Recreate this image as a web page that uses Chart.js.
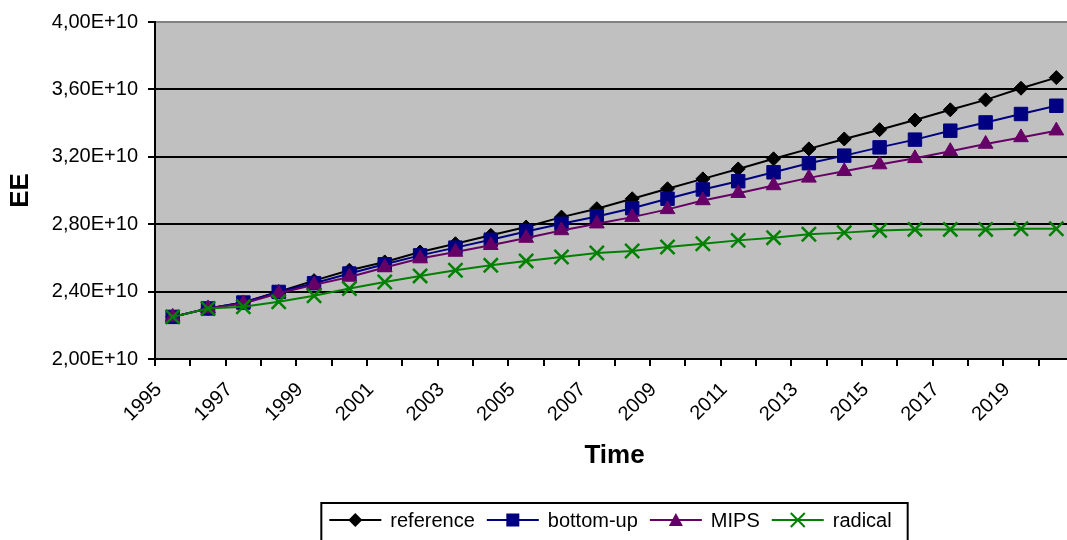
<!DOCTYPE html>
<html>
<head>
<meta charset="utf-8">
<script src="https://cdn.jsdelivr.net/npm/chart.js@4.4.0/dist/chart.umd.min.js"></script>
<style>
  html, body { margin: 0; padding: 0; background: #fff; overflow: hidden; }
  canvas { display: block; }
</style>
</head>
<body>
<canvas id="grafico" width="1076" height="540"></canvas>
<script>
// dados
const anos = ['1995', '1996', '1997', '1998', '1999', '2000', '2001', '2002', '2003', '2004', '2005', '2006', '2007',
  '2008', '2009', '2010', '2011', '2012', '2013', '2014', '2015', '2016', '2017', '2018', '2019', '2020'];

const reference = [2.25e10, 2.30e10, 2.335e10, 2.40e10, 2.465e10, 2.527e10, 2.576e10, 2.635e10, 2.684e10, 2.734e10,
  2.783e10, 2.842e10, 2.892e10, 2.951e10, 3.010e10, 3.069e10, 3.128e10, 3.188e10, 3.247e10, 3.306e10,
  3.361e10, 3.418e10, 3.479e10, 3.538e10, 3.607e10, 3.670e10];
const bottomUp = [2.25e10, 2.30e10, 2.335e10, 2.398e10, 2.45e10, 2.507e10, 2.562e10, 2.615e10, 2.661e10, 2.708e10,
  2.757e10, 2.803e10, 2.846e10, 2.895e10, 2.951e10, 3.006e10, 3.055e10, 3.108e10, 3.162e10, 3.207e10,
  3.256e10, 3.302e10, 3.355e10, 3.404e10, 3.454e10, 3.503e10];
const mips = [2.25e10, 2.30e10, 2.33e10, 2.39e10, 2.44e10, 2.487e10, 2.543e10, 2.596e10, 2.635e10, 2.675e10,
  2.718e10, 2.763e10, 2.803e10, 2.842e10, 2.888e10, 2.941e10, 2.984e10, 3.030e10, 3.075e10, 3.114e10,
  3.154e10, 3.191e10, 3.233e10, 3.276e10, 3.315e10, 3.355e10];
const radical = [2.25e10, 2.30e10, 2.31e10, 2.34e10, 2.375e10, 2.418e10, 2.457e10, 2.493e10, 2.527e10, 2.556e10,
  2.582e10, 2.605e10, 2.629e10, 2.641e10, 2.665e10, 2.684e10, 2.704e10, 2.720e10, 2.740e10, 2.750e10,
  2.763e10, 2.769e10, 2.769e10, 2.769e10, 2.773e10, 2.773e10];

const fonte = '"Liberation Sans", Arial, sans-serif';

// fundo cinza da area do grafico
const fundoPlugin = {
  id: 'fundo',
  beforeDraw(chart) {
    const a = chart.chartArea;
    const ctx = chart.ctx;
    ctx.save();
    ctx.fillStyle = '#C0C0C0';
    ctx.fillRect(a.left, a.top, a.right - a.left, a.bottom - a.top);
    ctx.restore();
  }
};

function desenharMarcador(ctx, estilo, x, y, cor) {
  ctx.fillStyle = cor;
  ctx.strokeStyle = cor;
  ctx.beginPath();
  if (estilo === 'rectRot') {
    ctx.moveTo(x, y - 7); ctx.lineTo(x + 7, y); ctx.lineTo(x, y + 7); ctx.lineTo(x - 7, y);
    ctx.closePath(); ctx.fill();
  } else if (estilo === 'rect') {
    ctx.fillRect(x - 6.5, y - 6.5, 13, 13);
  } else if (estilo === 'triangle') {
    ctx.moveTo(x, y - 7); ctx.lineTo(x + 7, y + 6); ctx.lineTo(x - 7, y + 6);
    ctx.closePath(); ctx.fill();
  } else {
    ctx.lineWidth = 2;
    ctx.moveTo(x - 7, y - 7); ctx.lineTo(x + 7, y + 7);
    ctx.moveTo(x + 7, y - 7); ctx.lineTo(x - 7, y + 7);
    ctx.stroke();
  }
}

// legenda com borda, estilo Excel
const legendaPlugin = {
  id: 'legenda',
  afterDraw(chart) {
    const ctx = chart.ctx;
    const a = chart.chartArea;
    const ds = chart.data.datasets;
    ctx.save();
    ctx.font = '20px ' + fonte;
    const linha = 52, gapTexto = 9, gapItem = 12, padL = 8, padR = 16;
    let total = padL + padR;
    const larguras = ds.map(d => ctx.measureText(d.label).width);
    larguras.forEach((w, i) => { total += linha + gapTexto + w + (i < ds.length - 1 ? gapItem : 0); });
    const centro = (a.left + a.right) / 2;
    let x = centro - total / 2;
    const topo = 503;
    ctx.strokeStyle = '#000';
    ctx.lineWidth = 2;
    ctx.strokeRect(x, topo, total, 45);
    const cy = topo + 17;
    x += padL;
    ds.forEach((d, i) => {
      ctx.strokeStyle = d.borderColor;
      ctx.lineWidth = 2;
      ctx.beginPath();
      ctx.moveTo(x, cy);
      ctx.lineTo(x + linha, cy);
      ctx.stroke();
      desenharMarcador(ctx, d.pointStyle, x + linha / 2, cy, d.borderColor);
      x += linha + gapTexto;
      ctx.fillStyle = '#000';
      ctx.textBaseline = 'middle';
      ctx.textAlign = 'left';
      ctx.fillText(d.label, x, cy + 1);
      x += larguras[i] + gapItem;
    });
    ctx.restore();
  }
};

function serie(nome, dados, cor, estilo, raio, ordem) {
  return {
    label: nome,
    data: dados,
    borderColor: cor,
    backgroundColor: cor,
    borderWidth: 2,
    pointStyle: estilo,
    pointRadius: raio,
    pointHoverRadius: raio,
    pointBackgroundColor: cor,
    pointBorderColor: cor,
    pointBorderWidth: estilo === 'crossRot' ? 2.5 : 1,
    tension: 0,
    order: ordem
  };
}

new Chart(document.getElementById('grafico'), {
  type: 'line',
  data: {
    labels: anos,
    datasets: [
      serie('reference', reference, '#000000', 'rectRot', 7, 4),
      serie('bottom-up', bottomUp, '#000080', 'rect', 9.5, 3),
      serie('MIPS', mips, '#660066', 'triangle', 8.5, 2),
      serie('radical', radical, '#008000', 'crossRot', 10, 1)
    ]
  },
  options: {
    responsive: false,
    animation: false,
    events: [],
    layout: { autoPadding: false, padding: { top: 21, right: 2, left: 0, bottom: 0 } },
    plugins: {
      legend: { display: false },
      tooltip: { enabled: false }
    },
    scales: {
      x: {
        offset: true,
        afterFit(scale) { scale.height = 181; scale.paddingRight = 0; },
        grid: {
          offset: true,
          drawOnChartArea: false,
          color: '#000',
          tickColor: '#000',
          tickLength: 7,
          lineWidth: 2
        },
        border: { color: '#000', width: 2 },
        ticks: {
          autoSkip: false,
          minRotation: 45,
          maxRotation: 45,
          labelOffset: -14,
          padding: 12,
          color: '#000',
          font: { family: fonte, size: 20 },
          callback: function(v, i) { return i % 2 === 0 ? anos[i] : ''; }
        },
        title: {
          display: true,
          text: 'Time',
          color: '#000',
          font: { family: fonte, size: 26, weight: 'bold' },
          padding: { top: 69, bottom: 69 }
        }
      },
      y: {
        min: 2.0e10,
        max: 4.0e10,
        afterFit(scale) { scale.width = 155; },
        grid: {
          color: function(c) { return c.tick && c.tick.value === 4.0e10 ? '#808080' : '#000'; },
          tickColor: '#000',
          tickLength: 7,
          lineWidth: 2
        },
        border: { color: '#000', width: 2 },
        ticks: {
          stepSize: 0.4e10,
          padding: 10,
          color: '#000',
          font: { family: fonte, size: 20 },
          callback: function(v) { return (v / 1e10).toFixed(2).replace('.', ',') + 'E+10'; }
        },
        title: {
          display: true,
          text: 'EE',
          color: '#000',
          font: { family: fonte, size: 26, weight: 'bold' },
          padding: { top: 5, bottom: 5 }
        }
      }
    }
  },
  plugins: [fundoPlugin, legendaPlugin]
});
</script>
</body>
</html>
